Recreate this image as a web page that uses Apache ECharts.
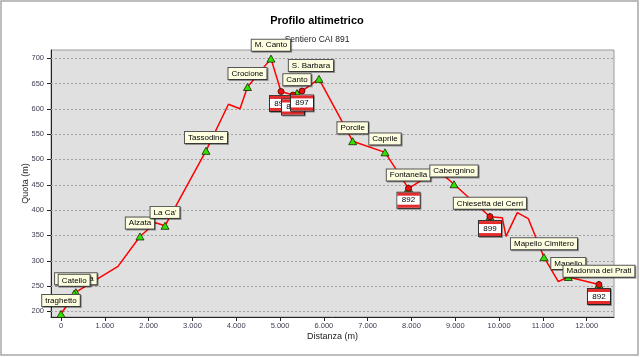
<!DOCTYPE html>
<html><head><meta charset="utf-8">
<script src="https://cdn.jsdelivr.net/npm/echarts@6/dist/echarts.min.js"></script>
<style>html,body{margin:0;padding:0;background:#fff}#c{width:640px;height:357px}</style>
</head><body><div id="c"></div>
<script>
// Profile vertices (distance m, altitude m)
const profileDist = [0,342,890,1301,1803,2157,2374,3310,3823,4086,4257,4793,5022,5296,5387,5501,5889,6658,7396,7932,8240,8651,8971,9792,10073,10158,10416,10667,11025,11352,11580,12280];
const profileAlt  = [195,238,267,289,348,375,369,517,609,600,643,699,634,627,631,635,659,536,514,443,459,475,451,387,385,348,395,383,307,259,268,253];

// Named places (green triangles)
const poiNames = ['traghetto','S. Andrea','Catello','Alzata',"La Ca'",'Tassodine','Crocione','M. Canto','Canto','S. Barbara','Porcile','Caprile','Fontanella','Cabergnino','Chiesetta del Cerri','Mapello Cimitero','Mapello','Madonna dei Prati'];
const poiDist  = [0,340,300,1803,2374,3310,4257,4793,5387,5889,6658,7396,7932,8971,9792,11025,11580,12280];
const poiAlt   = [195,238,235,348,369,517,643,699,631,659,536,514,443,451,387,307,268,253];

// Trail junctions (red dots with trail number)
const junctionLabels = ['892','893','897','892','899','892'];
const junctionDist   = [5022,5296,5501,7932,9792,12280];
const junctionAlt    = [634,627,635,443,387,253];

// Axis ticks
const xTicks = [0,1000,2000,3000,4000,5000,6000,7000,8000,9000,10000,11000,12000];
const yTicks = [200,250,300,350,400,450,500,550,600,650,700];

const FONT = '"Liberation Sans", Arial, sans-serif';
const fmt = v => String(v).replace(/\B(?=(\d{3})+(?!\d))/g, '.');
const nudge = {'S. Barbara': [-8, 0]};

const chart = echarts.init(document.getElementById('c'));
chart.setOption({
  animation: false,
  textStyle: {fontFamily: FONT},
  graphic: [{type: 'rect', shape: {x: 1, y: 1, width: 637, height: 354}, style: {fill: 'none', stroke: '#a8a8a8', lineWidth: 1.5}, z: -1}],
  title: [
    {text: 'Profilo altimetrico', left: 317, top: 15, padding: 0, textAlign: 'center', z: 1,
     textStyle: {fontSize: 11, fontWeight: 'bold', color: '#000', fontFamily: FONT}},
    {text: 'Sentiero CAI 891', left: 317, top: 35, padding: 0, textAlign: 'center', z: 1,
     textStyle: {fontSize: 8.5, fontWeight: 'normal', color: '#222', fontFamily: FONT}}
  ],
  grid: {left: 51, right: 26, top: 50, bottom: 40, show: true, backgroundColor: '#e0e0e0', borderColor: '#9a9a9a', borderWidth: 1},
  xAxis: {
    type: 'value', min: -228, max: 12623,
    name: 'Distanza (m)', nameLocation: 'middle', nameGap: 15, nameMoveOverlap: false,
    nameTextStyle: {fontSize: 9, color: '#222', fontFamily: FONT},
    axisLine: {show: true, onZero: false, lineStyle: {color: '#222', width: 1}},
    axisTick: {show: true, customValues: xTicks, length: 4, lineStyle: {color: '#222'}},
    axisLabel: {customValues: xTicks, formatter: fmt, fontSize: 7.5, color: '#3c3c50', margin: 5, fontFamily: FONT},
    splitLine: {show: false}
  },
  yAxis: {
    type: 'value', min: 189, max: 716,
    name: 'Quota (m)', nameLocation: 'middle', nameGap: 21, nameMoveOverlap: false,
    nameTextStyle: {fontSize: 9, color: '#222', fontFamily: FONT},
    axisLine: {show: true, onZero: false, lineStyle: {color: '#222', width: 1}},
    axisTick: {show: true, customValues: yTicks, length: 4, lineStyle: {color: '#222'}},
    axisLabel: {customValues: yTicks, fontSize: 7.5, color: '#3c3c50', margin: 7, fontFamily: FONT},
    splitLine: {show: false}
  },
  series: [
    {
      type: 'line', data: [], z: 1, silent: true,
      markLine: {
        z: 1, silent: true, symbol: 'none', animation: false,
        label: {show: false},
        lineStyle: {type: [2, 2], color: '#a4a4a4', width: 1},
        data: yTicks.map(v => ({yAxis: v}))
      }
    },
    {
      type: 'line', z: 3, symbol: 'none', showSymbol: false, silent: true,
      lineStyle: {color: '#ff0000', width: 1.5},
      data: profileDist.map((d, i) => [d, profileAlt[i]])
    },
    {
      type: 'scatter', z: 4, symbol: 'triangle', symbolSize: [8, 7], silent: true,
      itemStyle: {color: '#33e000', borderColor: '#142800', borderWidth: 0.8, opacity: 1},
      data: poiNames.map((n, i) => {
        const o = {name: n, value: [poiDist[i], poiAlt[i]]};
        if (nudge[n]) o.label = {offset: nudge[n]};
        return o;
      }),
      label: {
        show: true, position: 'top', distance: 4, formatter: '{b}',
        fontSize: 8, lineHeight: 9, color: '#000', fontFamily: FONT,
        backgroundColor: '#fdfde0', borderColor: '#555', borderWidth: 1, padding: [1, 3, 1, 3],
        shadowColor: 'rgba(0,0,0,0.35)', shadowOffsetX: 1, shadowOffsetY: 1, shadowBlur: 0
      }
    },
    {
      type: 'scatter', z: 5, symbol: 'circle', symbolSize: 6, silent: true,
      itemStyle: {color: '#ee1010', borderColor: '#400', borderWidth: 0.8, opacity: 1},
      data: junctionLabels.map((n, i) => ({name: n, value: [junctionDist[i], junctionAlt[i]]})),
      label: {
        show: true, position: 'bottom', distance: 1,
        formatter: p => '{t| }\n{m|' + p.name + '}\n{t| }',
        borderColor: '#333', borderWidth: 1, padding: 0, backgroundColor: '#fff',
        shadowColor: 'rgba(0,0,0,0.35)', shadowOffsetX: 1, shadowOffsetY: 1, shadowBlur: 0,
        rich: {
          t: {width: 22, height: 3, lineHeight: 3, fontSize: 3, backgroundColor: '#e22b2b'},
          m: {width: 22, height: 8, lineHeight: 9, fontSize: 8, color: '#000', align: 'center', backgroundColor: '#fff', fontFamily: FONT}
        }
      }
    }
  ]
});
</script>
</body></html>
